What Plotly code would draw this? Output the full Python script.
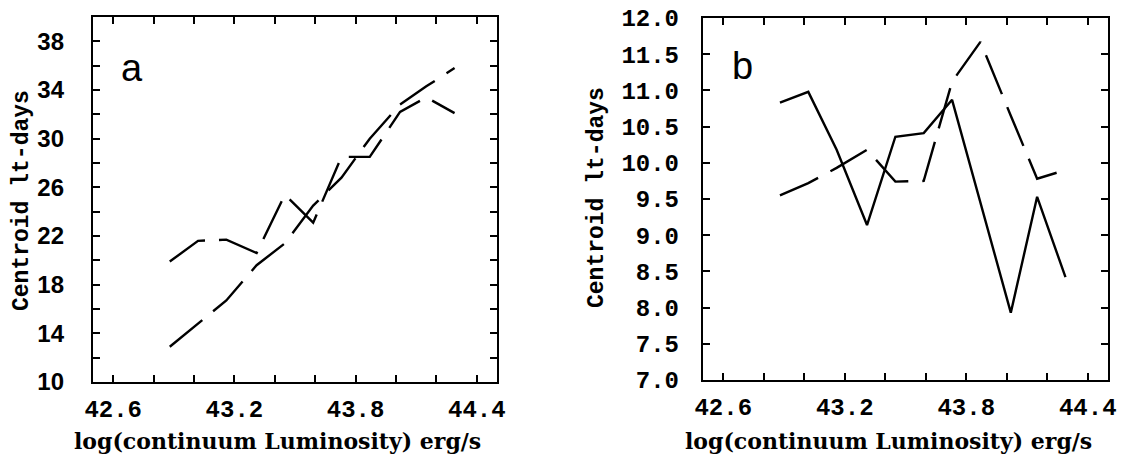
import plotly.graph_objects as go

# ---- data ----
log_lum = [42.88, 43.02, 43.16, 43.31, 43.45, 43.59, 43.73, 43.87, 44.02, 44.15, 44.29]

# panel a (two dashed curves)
a_upper = [19.9, 21.6, 21.7, 20.6, 25.4, 23.1, 28.5, 28.5, 32.2, 33.4, 32.1]
a_lower = [12.9, 14.8, 16.7, 19.6, 21.4, 24.5, 26.8, 30.0, 32.8, 34.3, 35.8]

# panel b (solid and dashed)
b_solid = [10.83, 10.98, 10.18, 9.14, 10.36, 10.41, 10.87, 9.45, 7.93, 9.53, 8.42]
b_dashed = [9.55, 9.72, 9.93, 10.18, 9.74, 9.75, 11.12, 11.67, 10.65, 9.78, 9.90]

x_ticks = [42.6, 42.8, 43.0, 43.2, 43.4, 43.6, 43.8, 44.0, 44.2, 44.4]
x_labels = ["42.6", "", "", "43.2", "", "", "43.8", "", "", "44.4"]
ya_ticks = [10, 12, 14, 16, 18, 20, 22, 24, 26, 28, 30, 32, 34, 36, 38]
ya_labels = ["10", "", "14", "", "18", "", "22", "", "26", "", "30", "", "34", "", "38"]
yb_ticks = [7.0, 7.5, 8.0, 8.5, 9.0, 9.5, 10.0, 10.5, 11.0, 11.5, 12.0]
yb_labels = ["7.0", "7.5", "8.0", "8.5", "9.0", "9.5", "10.0", "10.5", "11.0", "11.5", "12.0"]

x_title = "log(continuum Luminosity) erg/s"
y_title = "Centroid lt-days"

W, H = 1136, 457
DASH = "42px,14px"
LW = 2.4

fig = go.Figure()
fig.add_trace(go.Scatter(x=log_lum, y=a_upper, mode="lines", xaxis="x", yaxis="y",
                         line=dict(color="black", width=LW, dash=DASH)))
fig.add_trace(go.Scatter(x=log_lum, y=a_lower, mode="lines", xaxis="x", yaxis="y",
                         line=dict(color="black", width=LW, dash=DASH)))
fig.add_trace(go.Scatter(x=log_lum, y=b_solid, mode="lines", xaxis="x2", yaxis="y2",
                         line=dict(color="black", width=LW)))
fig.add_trace(go.Scatter(x=log_lum, y=b_dashed, mode="lines", xaxis="x2", yaxis="y2",
                         line=dict(color="black", width=LW, dash=DASH)))

mono = "Liberation Mono"
axis_common = dict(showline=True, linecolor="black", linewidth=2.4, mirror="ticks",
                   ticks="inside", ticklen=7, tickwidth=1.8, tickcolor="black",
                   showgrid=False, zeroline=False, automargin=False,
                   tickmode="array")

fig.update_layout(
    width=W, height=H,
    margin=dict(l=0, r=0, t=0, b=0),
    paper_bgcolor="white", plot_bgcolor="white",
    showlegend=False,
    xaxis=dict(domain=[93 / W, 497 / W], range=[42.5, 44.5], anchor="y",
               tickvals=x_ticks, ticktext=x_labels,
               tickfont=dict(family=mono, size=24, color="black", weight="bold"),
               ticklabelstandoff=4, **axis_common),
    yaxis=dict(domain=[75 / H, 440 / H], range=[10, 40], anchor="x",
               tickvals=ya_ticks, ticktext=ya_labels,
               tickfont=dict(family="Liberation Sans", size=24, color="black", weight="bold"),
               ticklabelstandoff=22, **axis_common),
    xaxis2=dict(domain=[703 / W, 1108 / W], range=[42.5, 44.5], anchor="y2",
                tickvals=x_ticks, ticktext=x_labels,
                tickfont=dict(family=mono, size=24, color="black", weight="bold"),
                ticklabelstandoff=4, **axis_common),
    yaxis2=dict(domain=[77 / H, 439 / H], range=[7, 12], anchor="x2",
                tickvals=yb_ticks, ticktext=yb_labels,
                tickfont=dict(family=mono, size=24, color="black", weight="bold"),
                ticklabelstandoff=17, **axis_common),
)

ann_font = dict(family="DejaVu Serif", size=22, color="black", weight="bold")
fig.add_annotation(x=72 / W, y=1 - 441 / H, xref="paper", yref="paper", text=x_title,
                   showarrow=False, xanchor="left", yanchor="middle", font=ann_font)
fig.add_annotation(x=683 / W, y=1 - 441 / H, xref="paper", yref="paper", text=x_title,
                   showarrow=False, xanchor="left", yanchor="middle", font=ann_font)
yt_font = dict(family=mono, size=23, color="black", weight="bold")
fig.add_annotation(x=22 / W, y=1 - 201 / H, xref="paper", yref="paper", text=y_title,
                   showarrow=False, textangle=-90, xanchor="center", yanchor="middle", font=yt_font)
fig.add_annotation(x=597 / W, y=1 - 198 / H, xref="paper", yref="paper", text=y_title,
                   showarrow=False, textangle=-90, xanchor="center", yanchor="middle", font=yt_font)
letter_font = dict(family="Liberation Sans", size=38, color="black")
fig.add_annotation(x=132 / W, y=1 - 68 / H, xref="paper", yref="paper", text="a",
                   showarrow=False, xanchor="center", yanchor="middle", font=letter_font)
fig.add_annotation(x=742 / W, y=1 - 66 / H, xref="paper", yref="paper", text="b",
                   showarrow=False, xanchor="center", yanchor="middle", font=letter_font)

fig.write_html("out.html")
